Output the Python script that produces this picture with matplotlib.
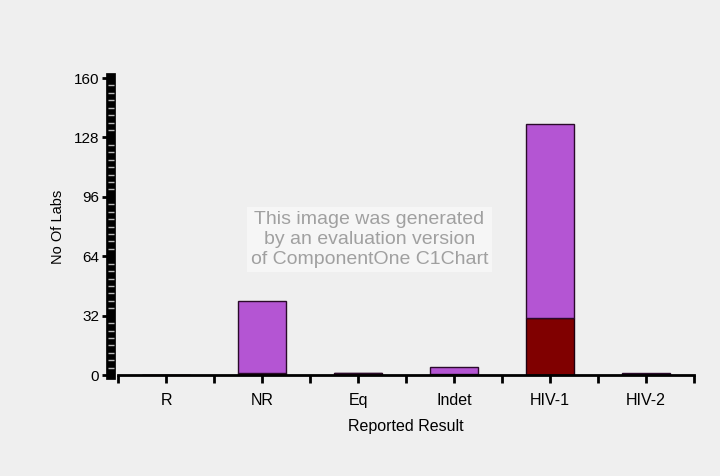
import matplotlib.pyplot as plt
from matplotlib.ticker import MultipleLocator

categories = ['R', 'NR', 'Eq', 'Indet', 'HIV-1', 'HIV-2']
lower_vals = [0, 1, 1, 0.5, 31, 0.5]
upper_vals = [0, 39, 0, 3.8, 104, 0.5]

plt.rcParams['font.family'] = ['Liberation Sans', 'DejaVu Sans']

fig = plt.figure(figsize=(7.2, 4.76), dpi=100)
fig.patch.set_facecolor('#efefef')
ax = fig.add_axes([0.164, 0.212, 0.80, 0.624])
ax.set_facecolor('#efefef')

x = list(range(len(categories)))
ax.bar(x, lower_vals, width=0.5, color='#800000', edgecolor='#200010', linewidth=1)
ax.bar(x, upper_vals, width=0.5, bottom=lower_vals, color='#b455d3',
       edgecolor='#2a0a2a', linewidth=1)

ax.set_xlim(-0.5, 5.5)
ax.set_ylim(0, 160)
ax.set_xticks(x)
ax.set_xticklabels(categories)
ax.xaxis.set_minor_locator(MultipleLocator(1, offset=0.5))
ax.yaxis.set_major_locator(MultipleLocator(32))
ax.yaxis.set_minor_locator(MultipleLocator(4))

for s in ['top', 'right']:
    ax.spines[s].set_visible(False)
ax.spines['left'].set_linewidth(7)
ax.spines['left'].set_position(('outward', 5))
ax.spines['left'].set_zorder(1)
ax.spines['bottom'].set_linewidth(2)
ax.tick_params(axis='x', which='both', direction='out', length=6, width=2,
               labelsize=11.5, pad=7)
ax.tick_params(axis='y', which='major', direction='out', length=6.5, width=2,
               labelsize=11, pad=2)
ax.tick_params(axis='y', which='minor', direction='inout', length=4, width=1,
               color='#b8b8b8')

ax.set_xlabel('Reported Result', fontsize=11.5, labelpad=8)
ax.set_ylabel('No Of Labs', fontsize=10.5, labelpad=6)

fig.text(0.513, 0.497, 'This image was generated\nby an evaluation version\nof ComponentOne C1Chart',
         ha='center', va='center', fontsize=14, color='#a0a0a0', linespacing=1.2,
         bbox=dict(facecolor='#f6f6f6', edgecolor='none', pad=3))

fig.savefig('out.png', dpi=100, facecolor=fig.get_facecolor())
